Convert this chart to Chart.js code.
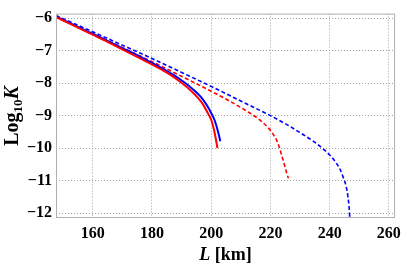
<!DOCTYPE html>
<html>
<head>
<meta charset="utf-8">
<script src="https://cdn.jsdelivr.net/npm/chart.js@4.4.1/dist/chart.umd.min.js"></script>
<style>
  html, body { margin: 0; padding: 0; background: #fff; }
  #wrap { width: 407px; height: 264px; }
</style>
</head>
<body>
<div id="wrap"><canvas id="chart"></canvas></div>
<script>
// values
const xTicks = [160, 180, 200, 220, 240, 260];
const yTicks = [-12, -11, -10, -9, -8, -7, -6];

const redSolidL = [147.6, 155, 160, 165, 170, 175, 179.3, 183, 186, 190.4, 193, 195.6, 197.3, 198.9, 200.1, 201.2, 202.0, 202.1];
const redSolidK = [-5.97, -6.29, -6.51, -6.73, -6.96, -7.19, -7.39, -7.57, -7.73, -8.02, -8.22, -8.46, -8.66, -8.93, -9.15, -9.54, -9.94, -10.0];

const blueSolidL = [147.6, 155, 160, 165, 170, 175, 179, 183, 187, 191, 194, 196.5, 198.4, 200, 201.2, 202.3, 203.1];
const blueSolidK = [-5.95, -6.27, -6.48, -6.70, -6.92, -7.14, -7.33, -7.52, -7.73, -7.98, -8.20, -8.42, -8.66, -8.92, -9.15, -9.49, -9.79];

const redDashL = [147.6, 159, 170, 180, 190, 200, 206, 212, 216, 219, 221, 222.5, 224, 225, 225.6, 226.1];
const redDashK = [-5.94, -6.44, -6.90, -7.34, -7.79, -8.25, -8.54, -8.86, -9.10, -9.35, -9.58, -9.84, -10.28, -10.6, -10.8, -10.93];

const blueDashL = [147.6, 160, 170, 180, 190, 200, 210, 220, 226, 231, 235, 238, 240, 242, 243.5, 244.6, 245.5, 246.2, 246.6, 246.9];
const blueDashK = [-5.92, -6.42, -6.83, -7.24, -7.67, -8.10, -8.55, -9.00, -9.30, -9.58, -9.82, -10.04, -10.21, -10.43, -10.65, -10.90, -11.15, -11.5, -11.85, -12.3];

function pts(xs, ys) {
  return xs.map(function (x, i) { return { x: x, y: ys[i] }; });
}

const serif = "'Liberation Serif', 'Times New Roman', serif";

function drawParts(ctx, parts, x, y) {
  var total = 0;
  parts.forEach(function (p) {
    ctx.font = p.font;
    total += ctx.measureText(p.t).width;
  });
  var cx = x - total / 2;
  parts.forEach(function (p) {
    ctx.font = p.font;
    ctx.fillText(p.t, cx, y + (p.dy || 0));
    cx += ctx.measureText(p.t).width;
  });
}

const frameAndTitles = {
  id: "frameAndTitles",
  afterDraw(chart) {
    const ctx = chart.ctx;
    const a = chart.chartArea;
    ctx.save();
    ctx.strokeStyle = "#b0b0b0";
    ctx.lineWidth = 1;
    ctx.strokeRect(a.left + 0.5, a.top + 0.5, a.right - a.left - 1, a.bottom - a.top - 1);

    ctx.fillStyle = "#000";
    ctx.textBaseline = "alphabetic";
    ctx.textAlign = "left";
    drawParts(ctx, [
      { t: "L", font: "italic bold 18px " + serif },
      { t: " [km]", font: "bold 18px " + serif }
    ], (a.left + a.right) / 2, 260);

    ctx.translate(18, 116);
    ctx.rotate(-Math.PI / 2);
    drawParts(ctx, [
      { t: "Log", font: "bold 20px " + serif },
      { t: "10", font: "bold 13px " + serif, dy: 4 },
      { t: "K", font: "italic bold 20px " + serif }
    ], 0, 0);
    ctx.restore();
  }
};

const ctx = document.getElementById("chart").getContext("2d");
const myChart = new Chart(ctx, {
  type: "scatter",
  data: {
    datasets: [
      { data: pts(redSolidL, redSolidK), borderColor: "#ff0000", borderWidth: 2 },
      { data: pts(blueSolidL, blueSolidK), borderColor: "#0000ff", borderWidth: 2 },
      { data: pts(redDashL, redDashK), borderColor: "#ff0000", borderWidth: 1.6, borderDash: [4, 2.5] },
      { data: pts(blueDashL, blueDashK), borderColor: "#0000ff", borderWidth: 1.6, borderDash: [4, 2.5] }
    ].map(function (d) {
      d.showLine = true;
      d.pointRadius = 0;
      d.cubicInterpolationMode = "monotone";
      d.fill = false;
      return d;
    })
  },
  options: {
    responsive: true,
    maintainAspectRatio: false,
    animation: false,
    layout: { padding: { top: 5, right: 8, left: 0, bottom: 0 } },
    plugins: {
      legend: { display: false },
      tooltip: { enabled: false }
    },
    scales: {
      x: {
        type: "linear",
        min: 147.6,
        max: 262.1,
        afterBuildTicks: function (scale) {
          scale.ticks = xTicks.map(function (v) { return { value: v }; });
        },
        afterFit: function (scale) { scale.height = 46; },
        grid: { color: "#a0a0a0", lineWidth: 1, drawTicks: false },
        border: { display: false, dash: [1, 2] },
        ticks: {
          padding: 6,
          maxRotation: 0,
          color: "#000",
          font: { family: serif, size: 16, weight: "bold" }
        }
      },
      y: {
        type: "linear",
        min: -12.15,
        max: -5.86,
        afterBuildTicks: function (scale) {
          scale.ticks = yTicks.map(function (v) { return { value: v }; });
        },
        afterFit: function (scale) { scale.width = 56; },
        grid: { color: "#a0a0a0", lineWidth: 1, drawTicks: false },
        border: { display: false, dash: [1, 2] },
        ticks: {
          padding: 4,
          color: "#000",
          font: { family: serif, size: 16, weight: "bold" },
          callback: function (v) { return String(v).replace("-", "\u2212"); }
        }
      }
    }
  },
  plugins: [frameAndTitles]
});
</script>
</body>
</html>
